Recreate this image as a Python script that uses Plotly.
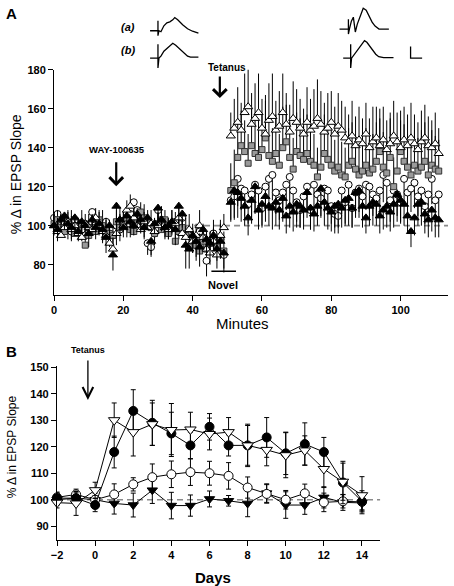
import plotly.graph_objects as go

W, H = 454, 586
FONT = "Liberation Sans, Arial, sans-serif"

# ---------------- Panel A data (minutes) ----------------
pre_minutes = list(range(0, 50))
post_minutes = list(range(51, 112))

bt_pre = [100,98,103,105,101,99,104,97,102,100, 96,103,99,101,98,94,100,85,110,103,
          99,105,102,100,106,103,99,104,92,101, 109,103,99,100,102,98,110,106,90,88,
          95,92,89,98,93,91,95,88,92,86]
gs_pre = [101,103,99,97,102,100,96,98,101,90, 95,99,97,103,100,98,96,95,102,99,
          101,104,98,97,103,107,104,102,99,96, 101,98,103,96,100,92,97,99,95,89,
          93,90,87,92,88,91,94,89,93,87]
oc_pre = [104,106,100,102,99,97,103,100,98,101, 99,107,103,100,98,102,96,95,100,98,
          102,100,106,112,108,103,100,91,89,96, 108,103,100,98,101,102,99,104,96,95,
          93,90,97,94,82,91,96,90,93,85]
ot_pre = [100,97,95,99,102,98,100,96,94,101, 99,98,104,100,97,95,91,88,96,103,
          100,108,110,104,100,98,102,99,101,97, 100,103,99,98,100,101,104,96,94,98,
          92,95,100,94,88,86,92,85,95,99]

bt_pre_err = [5,6,4,7,5,6,8,5,6,4, 7,5,6,5,7,8,6,8,20,7, 5,6,8,5,6,7,5,6,7,5,
              8,6,5,7,6,8,9,7,12,10, 9,8,10,7,9,11,8,10,9,10]
gs_pre_err = [6,5,7,5,6,8,5,6,7,6, 5,7,6,5,8,6,7,5,6,7, 6,5,7,8,6,5,7,6,5,8,
              6,7,5,6,8,7,6,5,9,7, 8,6,9,7,8,6,9,7,8,10]
oc_pre_err = [5,6,4,5,6,5,7,5,6,4, 6,5,7,5,6,5,7,6,5,6, 5,6,4,5,6,5,7,6,5,6,
              5,6,7,5,6,5,6,7,8,6, 7,8,6,7,8,6,7,8,6,7]
ot_pre_err = [6,7,5,6,5,7,6,8,6,5, 7,6,5,7,6,8,7,6,5,6, 7,5,6,5,7,6,5,6,7,5,
              6,7,5,6,8,6,5,7,6,8, 7,6,8,7,9,8,7,9,8,7]

ot_post = [146,150,153,149,158,161,152,155,158,150, 147,154,156,149,151,158,152,148,155,153,
           150,147,153,149,151,155,152,148,150,153, 147,151,149,145,143,146,141,144,142,147,
           140,143,145,141,144,139,142,146,143,140, 144,141,145,142,139,143,145,141,140,142,
           137]
gs_post = [118,122,135,141,138,132,141,137,135,139, 145,136,133,137,131,140,143,135,129,138,
           136,134,137,133,131,125,130,137,134,131, 128,130,126,125,131,133,129,126,128,131,
           127,129,133,138,130,127,135,120,128,138, 133,130,126,131,128,130,133,126,131,129,
           128]
oc_post = [113,115,124,119,118,111,116,121,118,109, 120,124,126,117,113,117,121,125,118,112,
           108,115,120,108,121,116,114,119,118,110, 106,105,118,112,121,109,117,119,115,121,
           120,116,114,118,126,122,113,118,116,112, 124,117,119,122,115,118,110,116,124,113,
           116]
bt_post = [112,118,117,114,110,104,113,120,108,111, 115,110,109,112,108,114,105,110,107,111,
           110,108,117,109,106,110,119,112,109,107, 110,111,109,113,114,109,117,118,110,104,
           110,112,111,105,108,110,107,111,116,113, 111,105,97,104,111,112,106,103,108,104,
           103]

ot_post_err = [12,15,18,14,20,22,16,18,20,15, 17,19,22,15,18,20,16,14,19,17, 15,13,18,16,19,20,17,15,18,16,
               14,17,15,16,14,18,15,17,13,16, 15,18,16,14,17,15,16,18,15,14, 17,16,18,15,14,16,17,15,14,16, 13]
gs_post_err = [14,17,20,18,16,15,19,17,20,18, 22,19,17,20,16,21,19,18,16,20, 19,17,20,18,16,15,18,20,17,19,
               16,18,17,15,19,20,17,16,18,19, 17,18,20,22,18,16,20,15,17,21, 19,17,16,18,17,19,20,16,18,17, 16]
oc_post_err = [10,12,14,11,13,10,12,14,11,10, 12,14,13,11,10,12,13,14,11,10, 9,11,13,10,12,11,10,12,11,9,
               10,9,12,11,13,10,11,12,10,13, 12,11,10,12,14,12,11,12,11,10, 13,11,12,13,10,12,9,11,13,10, 11]
bt_post_err = [10,14,13,12,10,9,12,14,10,11, 13,10,11,12,10,12,9,11,10,12, 11,10,13,11,9,10,14,12,11,10,
               11,12,10,13,14,10,13,14,11,8, 10,12,11,9,10,11,10,12,14,12, 11,9,8,9,11,12,10,9,11,10, 9]

# ---------------- Panel B data (days) ----------------
days = [-2, -1, 0, 1, 2, 3, 4, 5, 6, 7, 8, 9, 10, 11, 12, 13, 14]
b_filled_circle = [100.6, 100.6, 98, 118, 133.5, 129, 125, 120.5, 127.5, 120.5, 120.5, 123.5, 117.5, 121, 118, 106.5, 99.4]
b_open_tri = [98.9, 98.6, 103.6, 130, 125.5, 128.5, 126.3, 126.5, 124.8, 125.5, 120.5, 118.8, 116.8, 118.6, 111.6, 106.8, 101.7]
b_open_circle = [100.9, 102, 100, 102, 105.8, 108.5, 109.6, 110.4, 110, 109, 104.6, 102.2, 100, 102.4, 99, 99.4, 99.2]
b_filled_tri = [100, 100.6, 100, 98.6, 98, 103.6, 97.8, 97.8, 100.3, 99.6, 98.6, 102.5, 98, 98, 100.9, 99, 98.8]

b_fc_err = [2, 2, 2.5, 6, 8, 8.5, 8, 5, 5, 4, 7.5, 7.5, 8, 8, 5.5, 8, 4]
b_ot_err = [2, 4.5, 3, 6.5, 9, 8, 10, 6.5, 6, 5.5, 8, 6, 8.5, 5.5, 7, 7, 7]
b_oc_err = [2, 2, 2.5, 4, 2.5, 5, 5, 5, 4.5, 5, 4, 3.5, 3.5, 3.5, 3.5, 2.5, 3]
b_ft_err = [2, 2, 1.5, 4, 4.5, 5, 5, 4, 3, 2, 5, 3.5, 5, 3.5, 4, 3, 3]

# ---------------- EPSP waveform insets (time, voltage; arbitrary units) ----------------
wave_a_pre_t = [0, 8, 8, 8, 9, 11, 14, 17, 20, 23, 25, 28, 33, 38, 43, 49]
wave_a_pre_v = [0, 0, 10, -5, 0, -1, 5, 8, 9, 11, 13.3, 11, 6, 2, -0.5, -2.3]
wave_b_pre_t = [0, 8, 8, 8, 9, 11, 14, 17, 20, 23, 26, 30, 34, 38, 41, 49]
wave_b_pre_v = [0, 0, 14, -10, 0, 2, 7, 10, 13, 15, 13, 9, 5, 2, 1, 1]
wave_a_post_t = [0, 9, 9, 9, 10, 12, 14, 16, 18, 21, 24, 27, 30, 33, 36, 40, 50]
wave_a_post_v = [0, 0, 10, -5, 0, 8, 12, -3, 5, 14, 21, 19, 13, 7, 3, 0, 0]
wave_b_post_t = [0, 7.6, 7.6, 7.6, 8.5, 10, 13, 16, 19, 21.6, 24, 27, 30, 33, 36, 41, 51]
wave_b_post_v = [0, 0, 14, -10, 0, 2, 7, 11, 15, 17.7, 16, 12, 8, 4, 1.5, 0.5, 0.5]
scale_bar_t = [0, 0, 11.7]
scale_bar_v = [11.7, 0, 0]

assert len(bt_pre) == len(gs_pre) == len(oc_pre) == len(ot_pre) == len(pre_minutes)
assert len(bt_pre_err) == len(gs_pre_err) == len(oc_pre_err) == len(ot_pre_err) == len(pre_minutes)
assert len(bt_post) == len(gs_post) == len(oc_post) == len(ot_post) == len(post_minutes)
assert len(bt_post_err) == len(gs_post_err) == len(oc_post_err) == len(ot_post_err) == len(post_minutes)

# ---------------- layout helpers (pixel -> paper) ----------------
def px(x):
    return x / W

def py(y):
    return 1 - y / H

fig = go.Figure()

# Panel A series
def add_a(xv, yv, err, up, symbol, fill, line_c, size=7):
    ey = dict(type='data', symmetric=False, color='black', thickness=1, width=0)
    zeros = [0] * len(err)
    if up:
        ey.update(array=err, arrayminus=zeros)
    else:
        ey.update(array=zeros, arrayminus=err)
    fig.add_trace(go.Scatter(x=xv, y=yv, mode='markers', xaxis='x', yaxis='y',
                             marker=dict(symbol=symbol, size=size, color=fill,
                                         line=dict(color=line_c, width=1)),
                             error_y=ey, showlegend=False, cliponaxis=False))

for mins, ot, gs, oc, bt, ote, gse, oce, bte in [
    (pre_minutes, ot_pre, gs_pre, oc_pre, bt_pre, ot_pre_err, gs_pre_err, oc_pre_err, bt_pre_err),
    (post_minutes, ot_post, gs_post, oc_post, bt_post, ot_post_err, gs_post_err, oc_post_err, bt_post_err)]:
    add_a(mins, oc, oce, False, 'circle', 'white', 'black', 7)
    add_a(mins, gs, gse, True, 'square', '#9a9a9a', '#333333', 6)
    add_a(mins, ot, ote, True, 'triangle-up', 'white', 'black', 8)
    add_a(mins, bt, bte, False, 'triangle-up', 'black', 'black', 8)

# Panel B series
def add_b(yv, err, symbol, fill, size):
    fig.add_trace(go.Scatter(x=days, y=yv, mode='lines+markers', xaxis='x2', yaxis='y2',
                             line=dict(color='black', width=1),
                             marker=dict(symbol=symbol, size=size, color=fill,
                                         line=dict(color='black', width=1)),
                             error_y=dict(type='data', array=err, color='black',
                                          thickness=1, width=2.5),
                             showlegend=False, cliponaxis=False))

add_b(b_filled_tri, b_ft_err, 'triangle-down', 'black', 9)
add_b(b_open_circle, b_oc_err, 'circle', 'white', 9)
add_b(b_filled_circle, b_fc_err, 'circle', 'black', 9)
add_b(b_open_tri, b_ot_err, 'triangle-down', 'white', 10)

# Waveform insets (overlay axis in pixel units; y = -pixel row)
def add_wave(t, v, x0, base):
    fig.add_trace(go.Scatter(x=[x0 + ti for ti in t], y=[-base + vi for vi in v],
                             mode='lines', xaxis='x3', yaxis='y3',
                             line=dict(color='black', width=1.3),
                             showlegend=False, hoverinfo='skip'))

add_wave(wave_a_pre_t, wave_a_pre_v, 146, 25)
add_wave(wave_b_pre_t, wave_b_pre_v, 146, 52.7)
add_wave(wave_a_post_t, wave_a_post_v, 338, 23.3)
add_wave(wave_b_post_t, wave_b_post_v, 341.7, 52.7)
add_wave(scale_bar_t, scale_bar_v, 410, 52.7)

tickf = dict(family=FONT, size=11, color='black', weight='bold')
axis_common = dict(showline=True, linecolor='black', linewidth=1.2, ticks='outside',
                   ticklen=5, tickcolor='black', tickwidth=1.2, showgrid=False,
                   zeroline=False, tickfont=tickf)

fig.update_layout(
    width=W, height=H, autosize=False,
    margin=dict(l=0, r=0, t=0, b=0),
    paper_bgcolor='white', plot_bgcolor='rgba(0,0,0,0)',
    xaxis=dict(domain=[px(48.7), px(448)], range=[0, 113.7], anchor='y',
               tickvals=[0, 20, 40, 60, 80, 100], **axis_common),
    yaxis=dict(domain=[py(291.7), py(64.3)], range=[64.6, 180], anchor='x',
               tickvals=[80, 100, 120, 140, 160, 180], **axis_common),
    xaxis2=dict(domain=[px(51.7), px(379.3)], range=[-2, 14.96], anchor='y2',
                tickvals=[-2, 0, 2, 4, 6, 8, 10, 12, 14], **axis_common),
    yaxis2=dict(domain=[py(539.3), py(363.3)], range=[84.9, 150.6], anchor='x2',
                tickvals=[90, 100, 110, 120, 130, 140, 150], **axis_common),
    xaxis3=dict(domain=[0, 1], range=[0, W], visible=False, anchor='y3', fixedrange=True),
    yaxis3=dict(domain=[py(70), 1], range=[-70, 0], visible=False, anchor='x3', fixedrange=True),
)

# dashed reference lines at 100 %
fig.add_shape(type='line', xref='x', yref='y', x0=0, x1=113.7, y0=100, y1=100,
              line=dict(color='#8a8a8a', width=1.6, dash='6px,4px'), layer='below')
fig.add_shape(type='line', xref='x2', yref='y2', x0=-2, x1=14.96, y0=100, y1=100,
              line=dict(color='#8a8a8a', width=1.6, dash='6px,4px'), layer='below')
# "Novel" exposure bar
fig.add_shape(type='line', xref='x', yref='y', x0=45.4, x1=52.5, y0=76.6, y1=76.6,
              line=dict(color='black', width=1.5))

def text(x, y, s, size, bold=True, italic=False, angle=0):
    fig.add_annotation(x=px(x), y=py(y), xref='paper', yref='paper', text=s,
                       showarrow=False, textangle=angle, xanchor='center', yanchor='middle',
                       font=dict(family=FONT, size=size, color='black',
                                 weight='bold' if bold else 'normal',
                                 style='italic' if italic else 'normal'))

def arrow(x, y_tail, y_tip, width, head, size):
    fig.add_annotation(x=px(x), y=py(y_tip), xref='paper', yref='paper', text='',
                       showarrow=True, ax=0, ay=-(y_tip - y_tail), axref='pixel', ayref='pixel',
                       arrowhead=head, arrowwidth=width, arrowsize=size, arrowcolor='black')

text(6, 8, 'A', 15)
text(6, 349, 'B', 15)
text(124, 21.7, '(a)', 11, italic=True)
text(124, 44.3, '(b)', 11, italic=True)
text(223.5, 62, 'Tetanus', 10)
arrow(216.7, 70, 93, 2.2, 4, 1.2)
text(112.5, 145, 'WAY-100635', 9.5)
arrow(111.7, 156.7, 182, 2.2, 4, 1.2)
text(220, 282, 'Novel', 11)
text(83, 347.5, 'Tetanus', 9)
arrow(83, 357, 398, 1.3, 5, 1.6)

text(240, 321, 'Minutes', 15, bold=False)
text(10, 170, '% \u0394 in EPSP Slope', 14, bold=False, angle=-90)
text(210, 577, 'Days', 15)
text(7, 445, '% \u0394 in EPSP Slope', 12, bold=False, angle=-90)

fig.write_html(
    "out.html",
    config={'displayModeBar': False},
    post_script="document.body.style.margin='0';document.body.style.padding='0';"
                "document.body.style.overflow='hidden';"
                "document.documentElement.style.overflow='hidden';",
)
